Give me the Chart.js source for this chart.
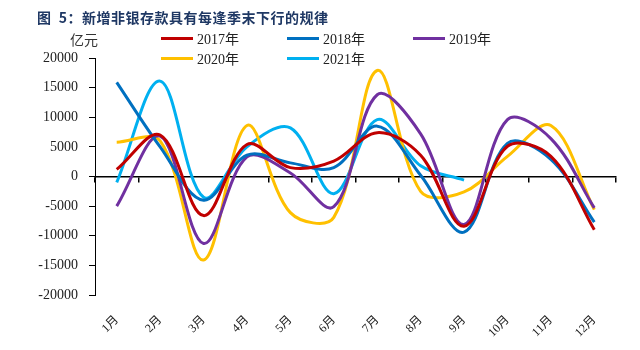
<!DOCTYPE html>
<html><head><meta charset="utf-8">
<script src="https://cdn.jsdelivr.net/npm/chart.js@4/dist/chart.umd.min.js"></script>
<style>
body{margin:0;background:#fff;}
#wrap{position:relative;width:640px;height:350px;overflow:hidden;}
canvas{position:absolute;left:0;top:0;}
#title{position:absolute;left:37px;top:7px;font:bold 14px "Noto Sans CJK SC";color:#1F3864;white-space:nowrap;letter-spacing:0.5px;}
#unit{position:absolute;left:70px;top:29px;font:14px "Noto Sans CJK SC";color:#333;white-space:nowrap;}
#legend{position:absolute;left:161px;top:28px;width:420px;height:40px;}
.li{position:absolute;display:flex;align-items:center;height:20px;font:14px "Liberation Serif","Noto Sans CJK SC";color:#222;white-space:nowrap;}
.sw{display:inline-block;width:32px;height:3px;margin-right:4px;}
</style></head>
<body>
<div id="wrap">
<canvas id="c" width="640" height="350"></canvas>
<div id="title">图&nbsp;&nbsp;5：新增非银存款具有每逢季末下行的规律</div>
<div id="unit">亿元</div>
<div id="legend"></div>
</div>
<script>
const months = ['1月','2月','3月','4月','5月','6月','7月','8月','9月','10月','11月','12月'];
const seriesNames = ['2017年','2018年','2019年','2020年','2021年'];
const y2017 = [1200, 7000, -6600, 5400, 1500, 2600, 7400, 3600, -8400, 5100, 3400, -9000];
const y2018 = [15900, 5000, -4000, 3600, 2300, 1500, 8500, 200, -9400, 5600, 2900, -7700];
const y2019 = [-5000, 6800, -11300, 3300, 600, -5100, 13800, 7200, -8100, 9600, 6400, -5300];
const y2020 = [5800, 6000, -14100, 8600, -6100, -6900, 17900, -2500, -2600, 3400, 8600, -5600];
const y2021 = [-1000, 16100, -3500, 5000, 8200, -2900, 9600, 1800, -600, null, null, null];
const yTicks = [-20000, -15000, -10000, -5000, 0, 5000, 10000, 15000, 20000];
const colors = ['#C00000', '#0070C0', '#7030A0', '#FFC000', '#00B0F0'];
const allSeries = [y2017, y2018, y2019, y2020, y2021];

const datasets = allSeries.map((d, i) => ({
  label: seriesNames[i],
  data: d,
  borderColor: colors[i],
  backgroundColor: colors[i],
  borderWidth: 3,
  pointRadius: 0,
  tension: 0.35,
  fill: false,
  xAxisID: 'x',
  yAxisID: 'y'
}));

const chart = new Chart(document.getElementById('c'), {
  type: 'line',
  data: { labels: months, datasets: datasets },
  options: {
    responsive: false,
    animation: false,
    layout: { padding: { left: 0, right: 24, top: 58, bottom: 0 } },
    plugins: { legend: { display: false }, title: { display: false }, tooltip: { enabled: false } },
    scales: {
      x: {
        type: 'category',
        position: 'bottom',
        offset: true,
        grid: { display: false },
        border: { display: false },
        ticks: {
          autoSkip: false, maxRotation: 45, minRotation: 45, padding: 10,
          color: '#222', font: { family: '"Liberation Serif","Noto Sans CJK SC"', size: 12 }
        },
        afterFit(s) { s.height = 55; }
      },
      x0: {
        type: 'category',
        position: { y: 0 },
        offset: true,
        grid: { display: true, offset: true, drawOnChartArea: false, drawTicks: true, tickLength: 5, color: '#000', lineWidth: 1.5 },
        border: { display: true, color: '#000', width: 1.5 },
        ticks: { display: false }
      },
      y: {
        min: -20000, max: 20000,
        afterBuildTicks(s) { s.ticks = yTicks.map(v => ({ value: v })); },
        grid: { display: true, drawOnChartArea: false, drawTicks: true, tickLength: 6, color: '#000', lineWidth: 1 },
        border: { display: true, color: '#000', width: 1 },
        ticks: {
          padding: 11, color: '#222', font: { family: '"Liberation Serif"', size: 14 },
          callback: (v) => String(v)
        },
        afterFit(s) { s.width = 95; }
      }
    }
  }
});

const lg = document.getElementById('legend');
chart.data.datasets.forEach((ds, i) => {
  const item = document.createElement('div');
  item.className = 'li';
  item.style.left = ((i % 3) * 126) + 'px';
  item.style.top = (Math.floor(i / 3) * 20) + 'px';
  const sw = document.createElement('span');
  sw.className = 'sw';
  sw.style.background = ds.borderColor;
  const tx = document.createElement('span');
  tx.textContent = ds.label;
  item.appendChild(sw); item.appendChild(tx);
  lg.appendChild(item);
});
</script>
</body></html>
